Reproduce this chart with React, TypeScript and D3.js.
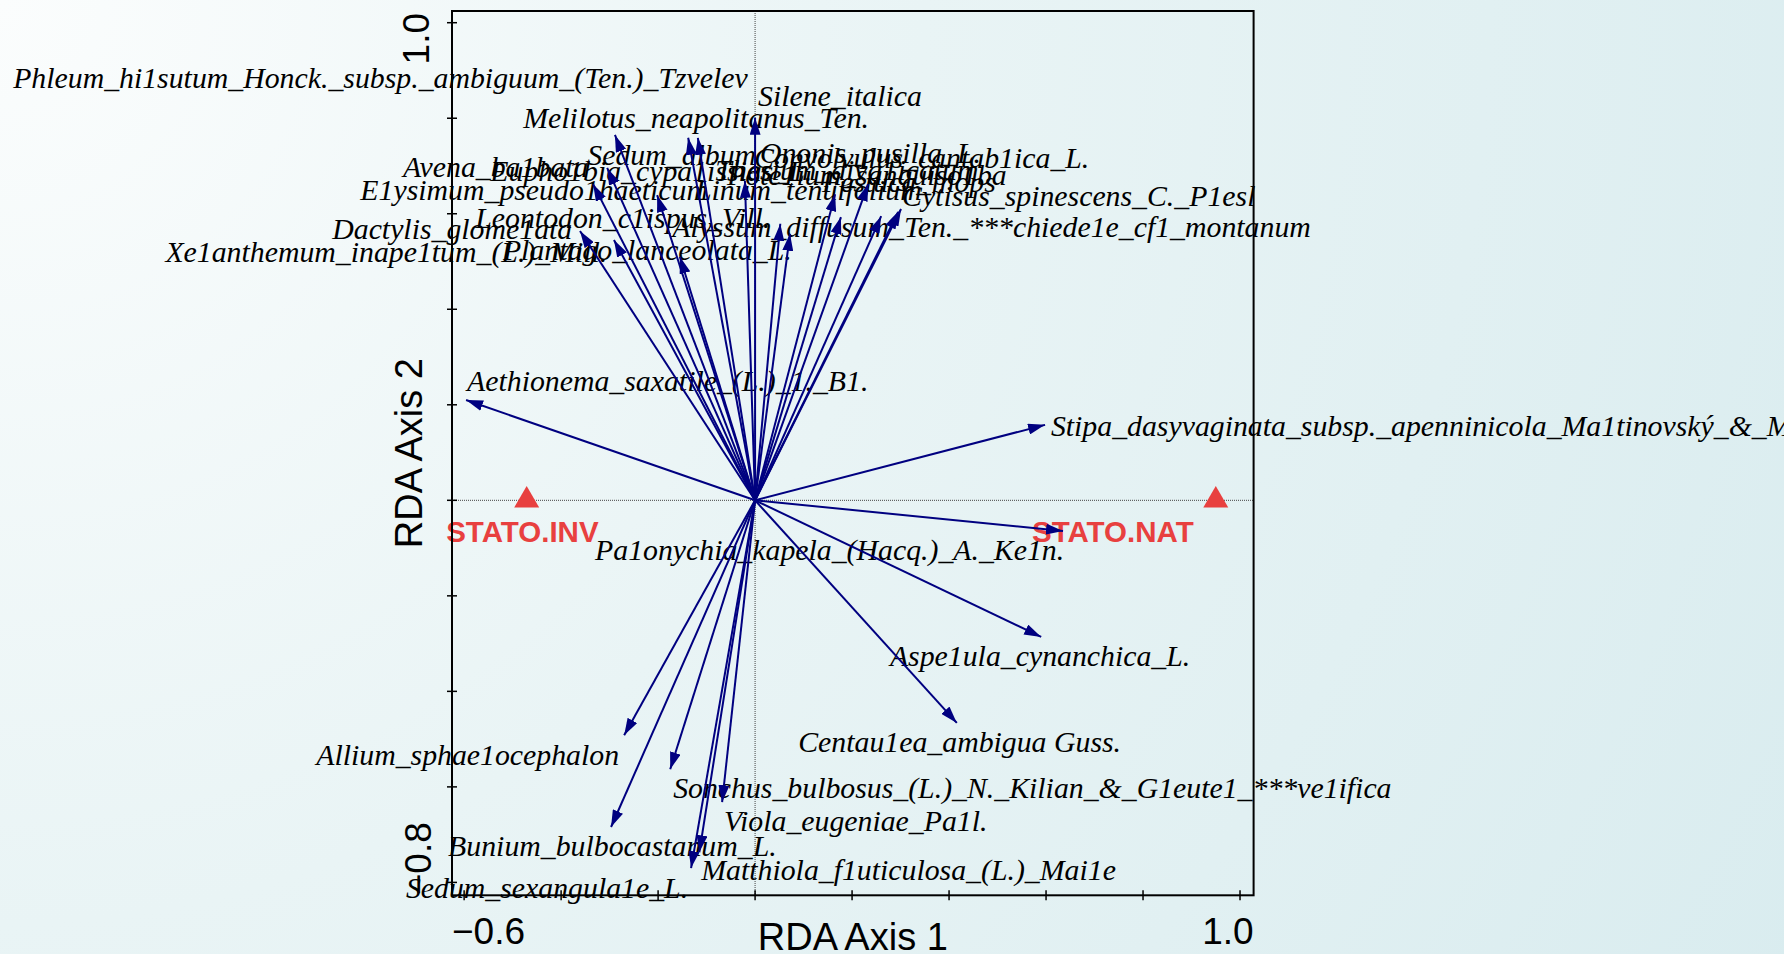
import React from "react";
import * as d3 from "d3";

// species scores (RDA axis 1 / axis 2) and where CanoDraw put their labels
const speciesNames = [
  "Silene_italica",
  "Melilotus_neapolitanus_Ten.",
  "Phleum_hi1sutum_Honck._subsp._ambiguum_(Ten.)_Tzvelev",
  "Sedum_album",
  "Eupho1bia_cypa1issias_L.",
  "Avena_ba1bata",
  "E1ysimum_pseudo1haeticum",
  "Pote1ium_sanguiso1ba",
  "Festuca_inops",
  "Ononis_pusilla_L.",
  "Cytisus_spinescens_C._P1esl",
  "Thesium_diva1icatum",
  "Convolvulus_cantab1ica_L.",
  "Linum_tenuifolium",
  "Alyssum_diffusum_Ten._***chiede1e_cf1_montanum",
  "Xe1anthemum_inape1tum_(L.)_Mill.",
  "Dactylis_glome1ata",
  "Leontodon_c1ispus_Vill.",
  "Plantago_lanceolata_L.",
  "Aethionema_saxatile_(L.)_1._B1.",
  "Stipa_dasyvaginata_subsp._apenninicola_Ma1tinovský_&_Mo1aldo",
  "Pa1onychia_kapela_(Hacq.)_A._Ke1n.",
  "Aspe1ula_cynanchica_L.",
  "Centau1ea_ambigua Guss.",
  "Allium_sphae1ocephalon",
  "Bunium_bulbocastanum_L.",
  "Sedum_sexangula1e_L.",
  "Sonchus_bulbosus_(L.)_N._Kilian_&_G1eute1_***ve1ifica",
  "Viola_eugeniae_Pa1l.",
  "Matthiola_f1uticulosa_(L.)_Mai1e",
];
const speciesAxis1 = [
  0.0, -0.289, -0.138, -0.118, -0.305, -0.334, -0.202, -0.021, 0.165, 0.233,
  0.301, 0.295, 0.26, 0.177, 0.052, 0.072, -0.361, -0.291, -0.155, -0.596,
  0.598, 0.635, 0.59, 0.416, -0.27, -0.297, -0.175, -0.068, -0.115, -0.132,
];
const speciesAxis2 = [
  0.801, 0.765, 0.759, 0.759, 0.696, 0.662, 0.639, 0.669, 0.641, 0.662,
  0.61, 0.604, 0.595, 0.593, 0.579, 0.558, 0.564, 0.545, 0.51, 0.21,
  0.158, -0.064, -0.286, -0.466, -0.492, -0.684, -0.563, -0.632, -0.737, -0.77,
];
const labelAxis1 = [
  0.006, -0.478, -1.53, -0.346, -0.546, -0.726, -0.814, -0.058, 0.138, 0.01,
  0.303, -0.082, -0.002, -0.124, -0.171, -1.216, -0.872, -0.577, -0.52, -0.594,
  0.61, -0.33, 0.278, 0.089, -0.905, -0.633, -0.72, -0.169, -0.064, -0.111,
];
const labelAxis2 = [
  0.826, 0.78, 0.864, 0.702, 0.669, 0.677, 0.629, 0.66, 0.646, 0.706,
  0.616, 0.671, 0.696, 0.629, 0.551, 0.499, 0.547, 0.57, 0.503, 0.229,
  0.135, -0.125, -0.347, -0.527, -0.554, -0.745, -0.833, -0.623, -0.693, -0.795,
];

// nominal variable centroids
const sampleNames = ["STATO.INV", "STATO.NAT"];
const sampleAxis1 = [-0.471, 0.95];
const sampleAxis2 = [0.0, 0.0];
const sampleLabelAxis1 = [-0.637, 0.571];
const sampleLabelAxis2 = [-0.087, -0.087];

const xTicks = [-0.6, -0.4, -0.2, 0, 0.2, 0.4, 0.6, 0.8, 1.0];
const yTicks = [-0.8, -0.6, -0.4, -0.2, 0, 0.2, 0.4, 0.6, 0.8, 1.0];
const xDomain = [-0.625, 1.028];
const yDomain = [-0.827, 1.0245];

const W = 1784;
const H = 954;
const frame = { left: 452, right: 1253.6, top: 11, bottom: 895.3 };

const navy = "#000080";
const red = "#e8403f";
const serif = "'Liberation Serif', 'Times New Roman', serif";
const sans = "'Liberation Sans', Arial, sans-serif";

export default function App() {
  const x = d3.scaleLinear().domain(xDomain).range([frame.left, frame.right]);
  const y = d3.scaleLinear().domain(yDomain).range([frame.bottom, frame.top]);
  const tri = d3.symbol().type(d3.symbolTriangle).size(270)();

  return (
    <svg
      width={W}
      height={H}
      style={{ position: "absolute", left: 0, top: 0 }}
    >
      <defs>
        <radialGradient id="bg" cx="0" cy="0" r="1.15" gradientUnits="objectBoundingBox"
          gradientTransform="scale(1, 1.87)">
          <stop offset="0" stopColor="#fbfdfd" />
          <stop offset="0.45" stopColor="#e9f4f5" />
          <stop offset="1" stopColor="#d9ecef" />
        </radialGradient>
        <marker id="head" viewBox="0 0 17 11" refX="17" refY="5.5"
          markerWidth="17" markerHeight="11" markerUnits="userSpaceOnUse" orient="auto">
          <path d="M0,0 L17,5.5 L0,11 z" fill={navy} />
        </marker>
      </defs>
      <rect width={W} height={H} fill="url(#bg)" />

      {/* zero lines */}
      <line x1={x(0)} x2={x(0)} y1={frame.top} y2={frame.bottom}
        stroke="#444" strokeWidth={1} strokeDasharray="1,1" />
      <line x1={frame.left} x2={frame.right} y1={y(0)} y2={y(0)}
        stroke="#444" strokeWidth={1} strokeDasharray="1,1" />

      {/* centroids */}
      {sampleNames.map((s, i) => (
        <g key={s}>
          <path d={tri} transform={`translate(${x(sampleAxis1[i])},${y(sampleAxis2[i])})`} fill={red} />
          <text x={x(sampleLabelAxis1[i])} y={y(sampleLabelAxis2[i])}
            fontFamily={sans} fontWeight="bold" fontSize={29.5} fill={red}>{s}</text>
        </g>
      ))}

      {/* species labels */}
      {speciesNames.map((s, i) => (
        <text key={s} x={x(labelAxis1[i])} y={y(labelAxis2[i])}
          fontFamily={serif} fontStyle="italic" fontSize={29.8} fill="#000">{s}</text>
      ))}

      {/* species arrows */}
      {speciesNames.map((s, i) => (
        <line key={s} x1={x(0)} y1={y(0)} x2={x(speciesAxis1[i])} y2={y(speciesAxis2[i])}
          stroke={navy} strokeWidth={2} markerEnd="url(#head)" />
      ))}

      {/* frame + axes */}
      <rect x={frame.left} y={frame.top} width={frame.right - frame.left}
        height={frame.bottom - frame.top} fill="none" stroke="#000" strokeWidth={2} />
      {xTicks.map((t) => (
        <line key={t} x1={x(t)} x2={x(t)} y1={frame.bottom - 5} y2={frame.bottom + 5}
          stroke="#000" strokeWidth={1.5} />
      ))}
      {yTicks.map((t) => (
        <line key={t} x1={frame.left - 5} x2={frame.left + 5} y1={y(t)} y2={y(t)}
          stroke="#000" strokeWidth={1.5} />
      ))}

      <text x={frame.left} y={944} fontFamily={sans} fontSize={37}>
        {d3.format(".1f")(xTicks[0])}
      </text>
      <text x={frame.right} y={944} fontFamily={sans} fontSize={37} textAnchor="end">
        {d3.format(".1f")(xTicks[xTicks.length - 1])}
      </text>
      <text transform={`translate(429,${frame.top + 2}) rotate(-90)`}
        fontFamily={sans} fontSize={37} textAnchor="end">
        {d3.format(".1f")(yTicks[yTicks.length - 1])}
      </text>
      <text transform={`translate(431,${frame.bottom}) rotate(-90)`}
        fontFamily={sans} fontSize={37} textAnchor="start">
        {d3.format(".1f")(yTicks[0])}
      </text>

      <text x={(frame.left + frame.right) / 2} y={950} fontFamily={sans} fontSize={38}
        textAnchor="middle">RDA Axis 1</text>
      <text transform={`translate(422,${(frame.top + frame.bottom) / 2}) rotate(-90)`}
        fontFamily={sans} fontSize={38} textAnchor="middle">RDA Axis 2</text>
    </svg>
  );
}
